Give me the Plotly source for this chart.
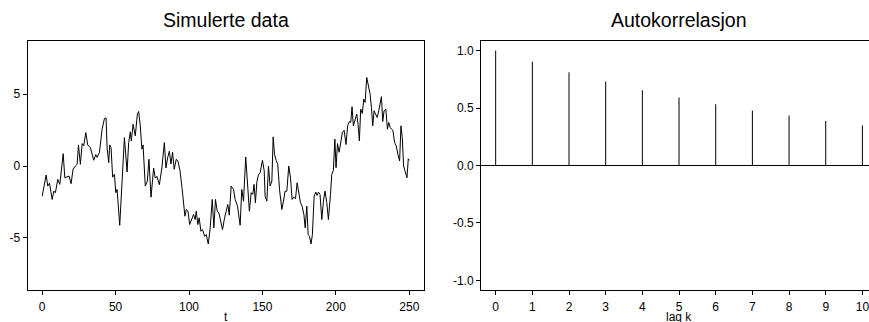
import plotly.graph_objects as go

# Simulated AR(1)-like series: time index and observed values
t_vals = [0, 2.7, 3.8, 5.0, 6.8, 7.9, 9.0, 10.6, 12.0, 12.9, 14.3, 15.4, 17.0, 18.3, 19.7,
          21.0, 22.6, 23.8, 24.7, 26.0, 27.2, 28.3, 29.7, 31.0, 32.8, 35.1, 36.5, 37.4, 39.0,
          40.8, 42.4, 43.5, 44.2, 45.3, 46.0, 46.9, 48.0, 49.2, 50.1, 51.0, 52.8, 54.4, 56.0,
          57.8, 58.9, 60.0, 60.7, 61.9, 63.4, 64.8, 65.7, 66.8, 67.9, 68.7, 70.2, 71.6, 72.7,
          74.1, 75.9, 77.0, 78.1, 79.8, 81.5, 83.2, 84.3, 85.4, 86.6, 87.7, 88.8, 89.9, 91.3,
          92.4, 93.8, 95.2, 96.3, 97.2, 98.1, 99.3, 100.4, 102.0, 103.1, 104.2, 104.9, 106.0,
          106.9, 108.1, 109.2, 110.6, 111.7, 113.1, 114.4, 115.8, 116.9, 118.0, 119.2, 120.3,
          121.5, 122.8, 124.2, 125.3, 126.4, 127.4, 128.7, 130.3, 131.4, 133.0, 134.8, 135.9,
          137.1, 138.6, 140.0, 141.1, 142.3, 143.4, 144.3, 145.2, 146.2, 147.4, 148.4, 150.0,
          151.2, 151.8, 153.0, 154.1, 155.2, 156.4, 157.3, 158.2, 159.3, 160.4, 161.6, 163.2,
          164.3, 165.4, 166.6, 167.9, 169.1, 170.2, 171.3, 172.5, 173.6, 174.8, 175.9, 177.0,
          178.2, 179.1, 180.2, 181.1, 182.0, 183.1, 184.0, 185.2, 186.3, 187.2, 188.1, 189.2,
          190.4, 191.5, 192.6, 193.8, 194.9, 196.3, 197.2, 198.3, 199.3, 200.1, 201.1, 202.2,
          203.3, 204.4, 205.6, 206.9, 208.0, 209.2, 210.1, 211.0, 211.9, 213.1, 214.2, 215.1,
          216.0, 216.9, 218.0, 219.0, 219.9, 221.0, 222.1, 223.3, 224.2, 225.1, 226.0, 227.2,
          228.1, 229.2, 230.1, 231.0, 231.9, 232.8, 234.0, 235.1, 236.0, 237.0, 237.9, 238.8,
          240.0, 241.1, 242.2, 243.4, 244.3, 245.2, 246.1, 247.3, 248.4, 249.3, 250.0]
x_vals = [-2.1, -0.63, -1.4, -1.2, -2.33, -1.75, -1.86, -0.93, -1.28, -0.23, 0.86, -0.82, -0.78, -0.7, -1.23,
          -0.23, 0.0, 0.12, 1.47, 0.12, 1.56, 1.4, 2.33, 1.47, 1.28, 0.4, 0.8, 0.6, 0.96,
          2.56, 3.31, 3.35, 1.28, 0.23, 1.47, 1.28, -0.78, -0.58, -1.86, -1.63, -4.13, -1.05, 1.98,
          -0.42, 1.63, 2.38, 1.75, 2.91, 2.1, 3.61, 3.8, 2.8, 1.17, 1.47, -1.4, -1.05, 0.47,
          -2.17, -0.14, -0.84, -0.72, -1.3, -0.14, 1.63, -0.14, 0.56, 1.03, 0.14, 0.96, -0.23, 0.47,
          0.35, -0.3, -1.5, -2.9, -3.5, -3.03, -3.15, -4.08, -3.61, -3.38, -3.73, -3.15, -4.08,
          -3.61, -4.55, -4.43, -4.9, -4.78, -5.43, -4.31, -2.33, -4.31, -2.33, -3.15, -3.26,
          -3.85, -4.43, -3.61, -3.15, -2.68, -3.43, -1.4, -1.63, -2.33, -2.8, -4.13, -1.63,
          -2.45, 0.63, -1.63, -3.15, -1.86, -1.98, -1.28, -2.56, -1.1, -0.58, -0.47, 0.4,
          -0.35, -2.1, -2.45, 0.0, -1.4, -1.05, 2.03, 0.82, 0.4, 0.12, -1.63, -3.03,
          -2.45, -1.75, -1.75, 0.0, -0.84, -2.33, -2.17, -2.28, -1.17, -1.86, -2.56, -2.8,
          -3.38, -4.31, -2.8, -4.78, -4.9, -5.43, -4.78, -2.1, -1.82, -2.05, -1.82, -1.98,
          -3.73, -2.45, -1.75, -2.56, -3.73, -2.0, -0.58, -0.3, 1.87, -0.12, 1.56, 0.96,
          1.63, 2.33, 2.49, 1.5, 2.8, 3.1, 3.03, 4.13, 2.8, 3.19, 3.61, 2.91,
          1.75, 3.96, 3.66, 4.66, 4.43, 6.17, 5.59, 5.0, 4.08, 2.8, 3.85, 3.61,
          3.38, 3.85, 4.31, 4.83, 3.1, 3.85, 3.96, 2.56, 3.03, 2.68, 2.56, 2.49,
          1.63, 1.4, 0.82, 0.35, 2.8, 1.98, 0.0, -0.35, -0.82, 0.5, 0.4]

# Sample autocorrelation by lag
lags = [0, 1, 2, 3, 4, 5, 6, 7, 8, 9, 10]
acf_vals = [1.0, 0.904, 0.811, 0.730, 0.655, 0.591, 0.533, 0.478, 0.435, 0.388, 0.348]

# Tick labels
t_ticks = [0, 50, 100, 150, 200, 250]
x_ticks = [-5, 0, 5]
x_ticktext = ["-5", "0", "5"]
acf_ticks = [-1.0, -0.5, 0.0, 0.5, 1.0]
acf_ticktext = ["-1.0", "-0.5", "0.0", "0.5", "1.0"]

W, H = 869, 322
FONT = "Liberation Sans, Arial, Helvetica, sans-serif"

fig = go.Figure()

fig.add_trace(go.Scatter(x=t_vals, y=x_vals, mode="lines",
                         line=dict(color="black", width=1),
                         xaxis="x", yaxis="y", hoverinfo="skip"))

# Vertical spikes from zero up to each autocorrelation value
spike_x, spike_y = [], []
for k, r in zip(lags, acf_vals):
    spike_x += [k, k, None]
    spike_y += [0, r, None]
fig.add_trace(go.Scatter(x=spike_x, y=spike_y, mode="lines",
                         line=dict(color="black", width=1),
                         xaxis="x2", yaxis="y2", hoverinfo="skip"))

axis_common = dict(showline=True, linecolor="black", linewidth=1,
                   ticks="outside", ticklen=4, tickwidth=1, tickcolor="black",
                   showgrid=False, zeroline=False, ticklabeloverflow="allow",
                   tickfont=dict(family=FONT, size=12, color="black"))

y_dom = [1 - 290 / H, 1 - 41 / H]

fig.update_layout(
    width=W, height=H,
    margin=dict(l=0, r=0, t=0, b=0),
    paper_bgcolor="white", plot_bgcolor="white",
    showlegend=False,
    xaxis=dict(domain=[27.5 / W, 424 / W], range=[-10, 260], anchor="y",
               tickvals=t_ticks, mirror=True, ticklabelstandoff=2, **axis_common),
    yaxis=dict(domain=y_dom, range=[-8.64, 8.71], anchor="x",
               tickvals=x_ticks, ticktext=x_ticktext, mirror=True, **axis_common),
    xaxis2=dict(domain=[481 / W, 1.0], range=[-0.4, 10.18], anchor="y2",
                tickvals=lags, mirror=True, ticklabelstandoff=2, **axis_common),
    yaxis2=dict(domain=y_dom, range=[-1.083, 1.083], anchor="x2",
                tickvals=acf_ticks, ticktext=acf_ticktext, mirror=False,
                **{**axis_common, "zeroline": True},
                zerolinecolor="black", zerolinewidth=1),
)

def label(text, cx, cy, size):
    fig.add_annotation(text=text, x=cx / W, y=1 - cy / H, xref="paper", yref="paper",
                       xanchor="center", yanchor="middle", showarrow=False,
                       font=dict(family=FONT, size=size, color="black"))

label("Simulerte data", 226, 20, 19.5)
label("Autokorrelasjon", 679, 20, 19.5)
label("t", 226, 316.5, 12)
label("lag k", 679, 316.5, 12)

fig.write_html("out.html")
